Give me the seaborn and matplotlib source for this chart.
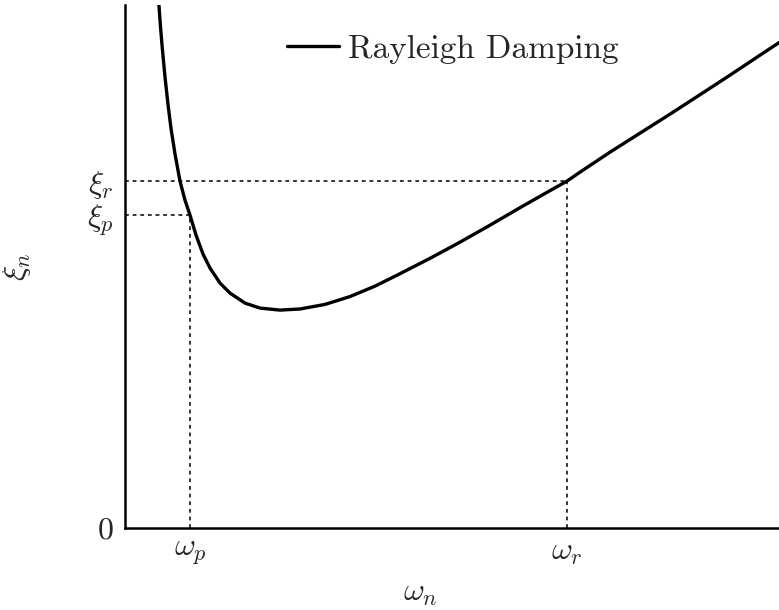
import matplotlib
matplotlib.use("Agg")
import matplotlib.pyplot as plt
import seaborn as sns
import pandas as pd

# Rayleigh damping ratio vs. natural frequency (arbitrary units)
omega = [0.49, 0.535, 0.566, 0.612, 0.657, 0.703, 0.765, 0.841, 0.917, 0.994,
         1.086, 1.193, 1.300, 1.453, 1.606, 1.835, 2.064, 2.370, 2.676,
         3.058, 3.440, 3.823, 4.205, 4.664, 5.122, 5.581, 6.040, 6.498,
         6.758, 6.957, 7.416, 7.875, 8.333, 8.792, 9.251, 9.709, 10.092]
xi = [8.42, 7.768, 7.385, 6.896, 6.483, 6.116, 5.719, 5.306, 5.015, 4.786,
      4.480, 4.190, 3.976, 3.746, 3.593, 3.440, 3.364, 3.333, 3.350,
      3.420, 3.540, 3.700, 3.890, 4.125, 4.372, 4.632, 4.900, 5.160,
      5.306, 5.443, 5.749, 6.040, 6.330, 6.628, 6.927, 7.232, 7.485]

# Reference frequencies and their damping ratios
omega_p, omega_r = 0.994, 6.758
xi_p, xi_r = 4.786, 5.306
xtick_labels = [r"$\omega_p$", r"$\omega_r$"]
ytick_labels = [r"$0$", r"$\xi_p$", r"$\xi_r$"]

sns.set_style("ticks")
plt.rcParams["mathtext.fontset"] = "cm"
plt.rcParams["font.family"] = ["cmr10", "DejaVu Serif"]
plt.rcParams["axes.formatter.use_mathtext"] = True

df = pd.DataFrame({"omega": omega, "xi": xi})

fig = plt.figure(figsize=(7.79, 6.10), dpi=100)
ax = fig.add_axes([125 / 779, 82 / 610, 654 / 779, 523 / 610])

sns.lineplot(data=df, x="omega", y="xi", ax=ax, color="black", lw=2.4,
             sort=False, label="Rayleigh Damping")
for line in ax.lines:
    line.set_solid_joinstyle("round")

guide = dict(color="black", lw=1.1, ls=(0, (2.5, 2.5)))
ax.plot([0, omega_r], [xi_r, xi_r], **guide)
ax.plot([0, omega_p], [xi_p, xi_p], **guide)
ax.plot([omega_p, omega_p], [0, xi_p], **guide)
ax.plot([omega_r, omega_r], [0, xi_r], **guide)

ax.set_xlim(0, 10)
ax.set_ylim(0, 8)
ax.set_xticks([omega_p, omega_r])
ax.set_xticklabels(xtick_labels, fontsize=23)
ax.set_yticks([0, xi_p, xi_r])
ax.set_yticklabels(ytick_labels, fontsize=23)
ax.tick_params(axis="both", length=0)
ax.tick_params(axis="x", pad=8)
ax.tick_params(axis="y", pad=8)

ax.set_xlabel(r"$\omega_n$", fontsize=23)
ax.set_ylabel(r"$\xi_n$", fontsize=23)
ax.xaxis.set_label_coords(0.451, -0.1)
ax.yaxis.set_label_coords(-0.14, 0.5)

sns.despine(ax=ax)
for side in ("left", "bottom"):
    ax.spines[side].set_linewidth(1.8)
    ax.spines[side].set_color("black")

ax.legend(loc="center left", bbox_to_anchor=(287 / 779, 1 - 49 / 610),
          bbox_transform=fig.transFigure, frameon=False, fontsize=24,
          handlelength=1.55, handletextpad=0.27, borderpad=0, borderaxespad=0)

fig.savefig("out.png", dpi=100)
